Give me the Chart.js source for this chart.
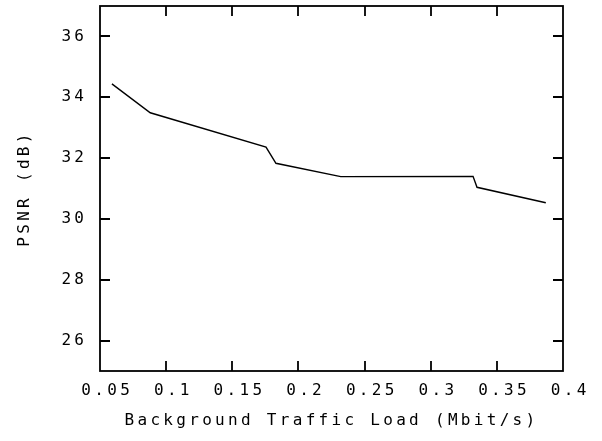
<!DOCTYPE html>
<html>
<head>
<meta charset="utf-8">
<script src="https://cdn.jsdelivr.net/npm/chart.js@4/dist/chart.umd.min.js"></script>
<style>
  html, body { margin: 0; padding: 0; background: #fff; }
</style>
</head>
<body>
<canvas id="psnrChart" width="602" height="441"></canvas>
<script>
// values
const loadMbit = [0.059, 0.088, 0.1755, 0.183, 0.232, 0.332, 0.335, 0.387];
const psnrDb = [34.44, 33.49, 32.36, 31.83, 31.39, 31.40, 31.04, 30.53];

const xTicks = [0.05, 0.1, 0.15, 0.2, 0.25, 0.3, 0.35, 0.4];
const xTickLabels = ['0.05', '0.1', '0.15', '0.2', '0.25', '0.3', '0.35', '0.4'];
const yTicks = [26, 28, 30, 32, 34, 36];
const yTickLabels = ['26', '28', '30', '32', '34', '36'];

const monoFont = { family: "'DejaVu Sans Mono', monospace", size: 16 };

// gnuplot-like frame with inward tick marks on all four sides
const framePlugin = {
  id: 'frame',
  beforeDraw(chart) {
    chart.ctx.letterSpacing = '3.3px';
  },
  afterDraw(chart) {
    const { ctx, chartArea: a, scales } = chart;
    const len = 10;
    ctx.save();
    ctx.strokeStyle = '#000';
    ctx.lineWidth = 1.8;
    ctx.strokeRect(a.left, a.top, a.right - a.left, a.bottom - a.top);
    ctx.beginPath();
    xTicks.slice(1, -1).forEach((v) => {
      const x = Math.round(scales.x.getPixelForValue(v));
      ctx.moveTo(x, a.bottom);
      ctx.lineTo(x, a.bottom - len);
      ctx.moveTo(x, a.top);
      ctx.lineTo(x, a.top + len);
    });
    yTicks.forEach((v) => {
      const y = Math.round(scales.y.getPixelForValue(v));
      ctx.moveTo(a.left, y);
      ctx.lineTo(a.left + len, y);
      ctx.moveTo(a.right, y);
      ctx.lineTo(a.right - len, y);
    });
    ctx.stroke();
    ctx.restore();
  },
};

new Chart('psnrChart', {
  type: 'line',
  data: {
    datasets: [
      {
        data: loadMbit.map((x, i) => ({ x: x, y: psnrDb[i] })),
        borderColor: '#000',
        borderWidth: 1.4,
        pointRadius: 0,
        tension: 0,
        fill: false,
      },
    ],
  },
  options: {
    responsive: false,
    devicePixelRatio: 1,
    animation: false,
    layout: { padding: { left: 0, top: 6, right: 39, bottom: 0 } },
    plugins: {
      legend: { display: false },
      tooltip: { enabled: false },
    },
    scales: {
      x: {
        type: 'linear',
        min: 0.05,
        max: 0.4,
        grid: { display: false, drawTicks: false },
        border: { display: false },
        afterBuildTicks: (scale) => {
          scale.ticks = xTicks.map((v) => ({ value: v }));
        },
        afterFit: (scale) => {
          scale.height = 70;
          scale.paddingLeft = 0;
          scale.paddingRight = 0;
        },
        ticks: {
          color: '#000',
          font: monoFont,
          padding: 10.5,
          labelOffset: 7.2,
          maxRotation: 0,
          autoSkip: false,
          callback: (v) => xTickLabels[xTicks.findIndex((t) => Math.abs(t - v) < 1e-9)],
        },
        title: {
          display: true,
          text: 'Background Traffic Load (Mbit/s)',
          color: '#000',
          font: monoFont,
          padding: { top: 0, bottom: 10.4 },
        },
      },
      y: {
        type: 'linear',
        min: 25,
        max: 37,
        grid: { display: false, drawTicks: false },
        border: { display: false },
        afterBuildTicks: (scale) => {
          scale.ticks = yTicks.map((v) => ({ value: v }));
        },
        afterFit: (scale) => {
          scale.width = 100;
          scale.paddingTop = 0;
          scale.paddingBottom = 0;
        },
        ticks: {
          color: '#000',
          font: monoFont,
          padding: 12.7,
          callback: (v) => yTickLabels[yTicks.indexOf(v)],
        },
        title: {
          display: true,
          text: 'PSNR (dB)',
          color: '#000',
          font: monoFont,
          padding: { top: 15.4, bottom: 0 },
        },
      },
    },
  },
  plugins: [framePlugin],
});
</script>
</body>
</html>
